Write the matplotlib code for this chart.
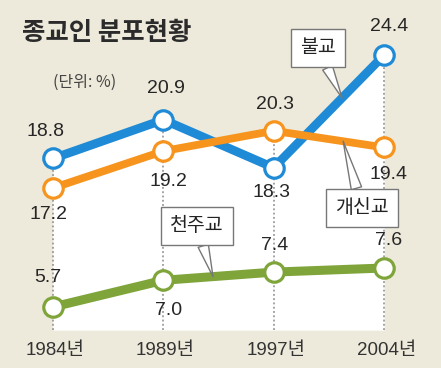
import numpy as np
import matplotlib
matplotlib.use("Agg")
import matplotlib.pyplot as plt
from matplotlib import transforms

# ---- data ----
years = ["1984년", "1989년", "1997년", "2004년"]
buddhism = [18.8, 20.9, 18.3, 24.4]      # 불교
protestant = [17.2, 19.2, 20.3, 19.4]    # 개신교
catholic = [5.7, 7.0, 7.4, 7.6]          # 천주교
title = "종교인 분포현황"
unit = "(단위: %)"
series_names = ["불교", "개신교", "천주교"]

# ---- styling ----
BG = "#eeeadb"
C_BLUE = "#1f8bd6"
C_ORANGE = "#f7941d"
C_GREEN = "#7fa53a"
TXT = "#262626"
NUM_FONT = ["Liberation Sans", "Noto Sans CJK KR"]
YEAR_FONT = ["Liberation Sans", "Noto Sans CJK KR"]
KR_FONT = ["Noto Sans CJK KR", "DejaVu Sans"]

# broken (piecewise-linear) value scale, like the newspaper graphic
K_MID = (11.322 - 8.0) / 9.0
K_UP = 0.9


def fwd(y):
    y = np.asarray(y, dtype=float)
    return np.where(y <= 8, y,
                    np.where(y <= 17, 8 + (y - 8) * K_MID, 11.322 + (y - 17) * K_UP))


def inv(f):
    f = np.asarray(f, dtype=float)
    return np.where(f <= 8, f,
                    np.where(f <= 11.322, 8 + (f - 8) / K_MID, 17 + (f - 11.322) / K_UP))


fig = plt.figure(figsize=(4.41, 3.68), dpi=100, facecolor=BG)
ax = fig.add_axes([0, 0, 1, 1])
ax.set_facecolor(BG)
ax.set_yscale("function", functions=(fwd, inv))
ax.set_xlim(-0.4804, 3.5166)
ax.set_ylim(2.722, float(inv(20.673)))
ax.axis("off")

x = np.arange(len(years))
base = 4.58

# white area under the upper lines
ax.fill_between(x, base, buddhism, color="white", lw=0, zorder=0.5)
ax.fill_between(x, base, protestant, color="white", lw=0, zorder=0.5)

# dotted guides
tops = np.maximum(buddhism, protestant)
for xi, t in zip(x, tops):
    ax.plot([xi, xi], [base, t], color="#8a8a8a", lw=1.1,
            linestyle=(0, (1.2, 1.6)), zorder=1)

mk = dict(marker="o", markersize=14, markerfacecolor="white", markeredgewidth=2.3)
ax.plot(x, buddhism, color=C_BLUE, lw=6.3, zorder=3, markeredgecolor=C_BLUE, **mk)
ax.plot(x, protestant, color=C_ORANGE, lw=5.6, zorder=4, markeredgecolor=C_ORANGE, **mk)
ax.plot(x, catholic, color=C_GREEN, lw=6.5, zorder=3, markeredgecolor=C_GREEN, **mk)

# value labels (offsets in pixels)
off_b = [(-8, 27), (3, 31), (-2, -25), (5, 29)]
off_o = [(-5, -26), (5, -30), (1, 26), (4, -27)]
off_g = [(-5, 29), (5, -30), (1, 27), (5, 27)]
for vals, offs in ((buddhism, off_b), (protestant, off_o), (catholic, off_g)):
    for xi, v, (dx, dy) in zip(x, vals, offs):
        ax.annotate(f"{v:.1f}", (xi, v), xytext=(dx, dy), textcoords="offset pixels",
                    ha="center", va="center", fontsize=14, family=NUM_FONT,
                    color=TXT, zorder=6)

# year labels
trans = transforms.blended_transform_factory(ax.transData, ax.transAxes)
for xi, lab in zip(x, years):
    ax.text(xi + 0.02, 1 - 350 / 368, lab, transform=trans, ha="center", va="center",
            fontsize=13.5, family=YEAR_FONT, color="#333333")

# title and unit
fig.text(22 / 441, 1 - 32 / 368, title, ha="left", va="center", fontsize=18.3,
         fontweight="bold", family=KR_FONT, color="#2b2b2b")
fig.text(53 / 441, 1 - 82 / 368, unit, ha="left", va="center", fontsize=11.5,
         family=KR_FONT, color="#444444")

# callouts
box = dict(boxstyle="square,pad=0.45", fc="white", ec="#777777", lw=1)


def callout(name, xs, series, text_xy):
    xt = xs
    yt = float(np.interp(xt, x, series))
    ax.annotate(name, (xt, yt), xytext=text_xy, textcoords="axes fraction",
                ha="center", va="center", fontsize=14, family=KR_FONT,
                fontweight="medium", color="#222222", bbox=box, zorder=7,
                arrowprops=dict(arrowstyle="wedge,tail_width=0.55,shrink_factor=0.5",
                                fc="white", ec="#777777", lw=1,
                                shrinkA=0, shrinkB=0))


callout(series_names[0], 2.62, buddhism, (318 / 441, 1 - 48 / 368))
callout(series_names[1], 2.63, protestant, (362 / 441, 1 - 208 / 368))
callout(series_names[2], 1.45, catholic, (197 / 441, 1 - 226 / 368))

fig.savefig("out.png", dpi=100, facecolor=BG)
